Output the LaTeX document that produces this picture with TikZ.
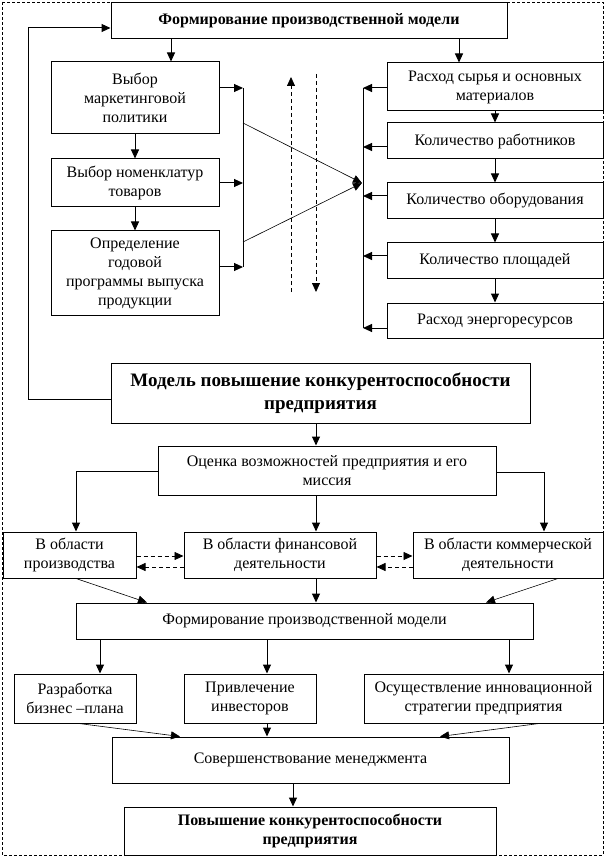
\documentclass[tikz,border=0pt]{standalone}
\usepackage{fontspec}
\setmainfont{Liberation Serif}
\usetikzlibrary{arrows.meta}
\begin{document}
\begin{tikzpicture}[x=1pt,y=-1pt,
  box/.style={draw, line width=1pt, inner sep=0pt, align=center, font=\fontsize{16}{19}\selectfont},
  boldbox/.style={box, font=\fontsize{16}{19}\selectfont\bfseries},
  bigbox/.style={box, font=\fontsize{19}{23}\selectfont\bfseries},
  arr/.style={line width=1pt, -{Triangle[length=9pt,width=8pt]}},
  thinarr/.style={line width=0.6pt, -{Triangle[length=9pt,width=8pt]}},
  dasharr/.style={line width=0.8pt, dash pattern=on 4pt off 3pt, -{Triangle[length=9pt,width=8pt]}},
  plain/.style={line width=1pt},
  frame/.style={line width=0.8pt, dash pattern=on 3pt off 2pt}]
\useasboundingbox (0,0) rectangle (606,858);
\draw[frame] (2,2) rectangle (603,855);

% ---------- upper part ----------
\node[boldbox, minimum width=396pt, minimum height=36pt] (top) at (309,21) {Формирование производственной модели};
\node[box, minimum width=168pt, minimum height=72pt] (L1) at (135,98) {Выбор\\маркетинговой\\политики};
\node[box, minimum width=168pt, minimum height=48pt] (L2) at (135,183) {Выбор номенклатур\\товаров};
\node[box, minimum width=168pt, minimum height=84pt] (L3) at (135,273) {Определение\\годовой\\программы выпуска\\продукции};
\node[box, minimum width=216pt, minimum height=48pt] (R1) at (495,87) {Расход сырья и основных\\материалов};
\node[box, minimum width=216pt, minimum height=36pt] (R2) at (495,141) {Количество работников};
\node[box, minimum width=216pt, minimum height=36pt] (R3) at (495,201) {Количество оборудования};
\node[box, minimum width=216pt, minimum height=35pt] (R4) at (495,260.5) {Количество площадей};
\node[box, minimum width=216pt, minimum height=35pt] (R5) at (495,320.5) {Расход энергоресурсов};

\coordinate (x171) at (171,0);
\coordinate (x459) at (459,0);
\draw[arr] (top.south -| x171) -- (L1.north -| x171);
\draw[arr] (top.south -| x459) -- (R1.north -| x459);
\draw[arr] (L1.south) -- (L2.north);
\draw[arr] (L2.south) -- (L3.north);
\draw[arr] (R1.south) -- (R2.north);
\draw[arr] (R2.south) -- (R3.north);
\draw[arr] (R3.south) -- (R4.north);
\draw[arr] (R4.south) -- (R5.north);

% left collector
\coordinate (cl1) at (243,88);
\coordinate (cl2) at (243,267);
\coordinate (cx1) at (243,123);
\coordinate (cx2) at (243,242);
\draw[plain] (cl1) -- (cl2);
\draw[arr] (L1.east |- cl1) -- (cl1);
\draw[arr] (L2.east) -- (L2.east -| cl1);
\draw[arr] (L3.east |- cl2) -- (cl2);

% right collector
\coordinate (cr1) at (363,88);
\coordinate (cr2) at (363,147);
\coordinate (cr3) at (363,196);
\coordinate (cr4) at (363,256);
\coordinate (cr5) at (363,328);
\draw[plain] (cr1) -- (cr5);
\draw[arr] (R1.west |- cr1) -- (cr1);
\draw[arr] (R2.west |- cr2) -- (cr2);
\draw[arr] (R3.west |- cr3) -- (cr3);
\draw[arr] (R4.west |- cr4) -- (cr4);
\draw[arr] (R5.west |- cr5) -- (cr5);

% crossing lines
\coordinate (conv) at (362,183);
\draw[thinarr] (cx1) -- (conv);
\draw[thinarr] (cx2) -- (conv);

% dashed arrows
\coordinate (du1) at (291,292);
\coordinate (du2) at (291,77);
\coordinate (dd1) at (316,74);
\coordinate (dd2) at (316,292);
\draw[dasharr] (du1) -- (du2);
\draw[dasharr] (dd1) -- (dd2);

% ---------- middle part ----------
\node[bigbox, minimum width=419pt, minimum height=60pt] (M) at (320.5,393) {Модель повышение конкурентоспособности\\предприятия};
\coordinate (fb) at (28,399);
\coordinate (fb2) at (28,28);
\draw[arr] (M.west |- fb) -- (fb) -- (fb2) -- (top.west |- fb2);

\node[box, minimum width=338pt, minimum height=49pt] (O) at (327,470.5) {Оценка возможностей предприятия и его\\миссия};
\coordinate (mo) at (316,0);
\draw[arr] (M.south -| mo) -- (O.north -| mo);

\node[box, minimum width=133pt, minimum height=46pt] (A) at (69.5,555) {В области\\производства};
\node[box, minimum width=192pt, minimum height=46pt] (B) at (280,555) {В области финансовой\\деятельности};
\node[box, minimum width=190pt, minimum height=46pt] (C) at (508,555) {В области коммерческой\\деятельности};

\coordinate (oa) at (76,471);
\coordinate (oc) at (544,472);
\draw[arr] (O.west |- oa) -- (oa) -- (A.north -| oa);
\draw[arr] (O.east |- oc) -- (oc) -- (C.north -| oc);
\draw[arr] (O.south -| mo) -- (B.north -| mo);

\coordinate (y556) at (0,556);
\coordinate (y567) at (0,567);
\draw[dasharr] (A.east |- y556) -- (B.west |- y556);
\draw[dasharr] (B.west |- y567) -- (A.east |- y567);
\draw[dasharr] (B.east |- y556) -- (C.west |- y556);
\draw[dasharr] (C.west |- y567) -- (B.east |- y567);

\node[box, minimum width=457pt, minimum height=36pt] (F2) at (304.5,621) {Формирование производственной модели};
\coordinate (x76) at (76,0);
\coordinate (x147) at (147,0);
\coordinate (x558) at (558,0);
\coordinate (x486) at (486,0);
\draw[thinarr] (A.south -| x76) -- (F2.north -| x147);
\draw[arr] (B.south -| mo) -- (F2.north -| mo);
\draw[thinarr] (C.south -| x558) -- (F2.north -| x486);

% ---------- lower part ----------
\node[box, minimum width=122pt, minimum height=49pt] (D1) at (75,698.5) {Разработка\\бизнес –плана};
\node[box, minimum width=132pt, minimum height=49pt] (D2) at (250,698.5) {Привлечение\\инвесторов};
\node[box, minimum width=239pt, minimum height=49pt] (D3) at (483.5,698.5) {Осуществление инновационной\\стратегии предприятия};

\coordinate (x100) at (100,0);
\coordinate (x267) at (267,0);
\coordinate (x509) at (509,0);
\draw[arr] (F2.south -| x100) -- (D1.north -| x100);
\draw[arr] (F2.south -| x267) -- (D2.north -| x267);
\draw[arr] (F2.south -| x509) -- (D3.north -| x509);

\node[box, minimum width=397pt, minimum height=46pt] (S) at (310.5,760) {Совершенствование менеджмента};
\coordinate (x79) at (79,0);
\coordinate (x180) at (180,0);
\coordinate (x539) at (539,0);
\coordinate (x440) at (440,0);
\draw[thinarr] (D1.south -| x79) -- (S.north -| x180);
\draw[arr] (D2.south -| x267) -- (S.north -| x267);
\draw[thinarr] (D3.south -| x539) -- (S.north -| x440);

\node[boldbox, minimum width=372pt, minimum height=48pt] (P) at (310,831) {Повышение конкурентоспособности\\предприятия};
\coordinate (x293) at (293,0);
\draw[arr] (S.south -| x293) -- (P.north -| x293);
\end{tikzpicture}
\end{document}
